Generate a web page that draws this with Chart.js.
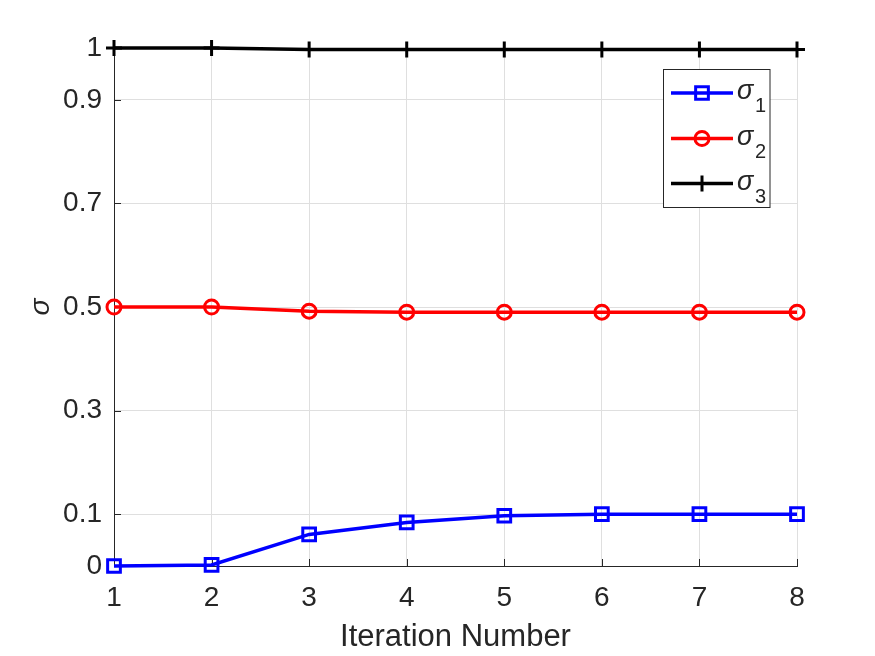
<!DOCTYPE html>
<html>
<head>
<meta charset="utf-8">
<script src="https://cdn.jsdelivr.net/npm/chart.js@4/dist/chart.umd.min.js"></script>
<style>
html,body{margin:0;padding:0;background:#fff;}
#wrap{width:875px;height:656px;position:relative;}
</style>
</head>
<body>
<div id="wrap"><canvas id="c" width="875" height="656"></canvas></div>
<script>
const iterations = [1, 2, 3, 4, 5, 6, 7, 8];
const sigma1 = [0.000, 0.002, 0.061, 0.084, 0.097, 0.100, 0.100, 0.100];
const sigma2 = [0.500, 0.500, 0.492, 0.490, 0.490, 0.490, 0.490, 0.490];
const sigma3 = [1.000, 1.000, 0.997, 0.997, 0.997, 0.997, 0.997, 0.997];
const yTickValues = [0, 0.1, 0.3, 0.5, 0.7, 0.9, 1];
const xTickValues = [1, 2, 3, 4, 5, 6, 7, 8];
const seriesNames = ['1', '2', '3'];
const xTitle = 'Iteration Number';
const yTitle = 'σ';

const FONT = "'Liberation Sans', Arial, Helvetica, sans-serif";
const AX = '#262626';
const GRID = '#dfdfdf';

function pts(vals){ return iterations.map((x,i)=>({x:x, y:vals[i]})); }

const seriesStyles = [
  {color:'#0000ff', pointStyle:'rect', radius:9},
  {color:'#ff0000', pointStyle:'circle', radius:7},
  {color:'#000000', pointStyle:'cross', radius:8}
];
const seriesData = [sigma1, sigma2, sigma3];

const datasets = seriesData.map((vals, i) => ({
  label: 'σ' + seriesNames[i],
  data: pts(vals),
  borderColor: seriesStyles[i].color,
  backgroundColor: 'rgba(0,0,0,0)',
  borderWidth: 3.5,
  pointStyle: seriesStyles[i].pointStyle,
  pointRadius: seriesStyles[i].radius,
  pointHoverRadius: seriesStyles[i].radius,
  pointBorderWidth: 3,
  pointBorderColor: seriesStyles[i].color,
  pointBackgroundColor: 'rgba(0,0,0,0)',
  tension: 0,
  clip: false
}));

const innerTicks = {
  id: 'innerTicks',
  beforeDatasetsDraw(chart){
    const {ctx, chartArea:a, scales:{x, y}} = chart;
    ctx.save();
    ctx.strokeStyle = AX;
    ctx.lineWidth = 1;
    ctx.beginPath();
    xTickValues.forEach(v => {
      const px = Math.round(x.getPixelForValue(v)) + 0.5;
      ctx.moveTo(px, a.bottom); ctx.lineTo(px, a.bottom - 7);
    });
    yTickValues.forEach(v => {
      const py = Math.round(y.getPixelForValue(v)) + 0.5;
      ctx.moveTo(a.left, py); ctx.lineTo(a.left + 7, py);
    });
    ctx.stroke();
    ctx.restore();
  }
};

const legendBox = {
  id: 'legendBox',
  afterDraw(chart){
    const ctx = chart.ctx;
    const bx = 663.5, by = 69.5, bw = 106.5, bh = 138;
    ctx.save();
    ctx.fillStyle = '#fff';
    ctx.fillRect(bx, by, bw, bh);
    ctx.strokeStyle = AX;
    ctx.lineWidth = 1;
    ctx.strokeRect(bx, by, bw, bh);
    const rows = [93, 138.5, 183.5];
    rows.forEach((ry, i) => {
      const st = seriesStyles[i];
      ctx.strokeStyle = st.color;
      ctx.lineWidth = 3.5;
      ctx.beginPath();
      ctx.moveTo(671, ry); ctx.lineTo(733, ry);
      ctx.stroke();
      ctx.fillStyle = 'rgba(0,0,0,0)';
      ctx.lineWidth = 3;
      Chart.helpers.drawPoint(ctx, {pointStyle: st.pointStyle, radius: st.radius, borderWidth: 3}, 702, ry);
      ctx.fillStyle = AX;
      ctx.textBaseline = 'alphabetic';
      ctx.textAlign = 'left';
      ctx.font = 'italic 27px ' + FONT;
      ctx.fillText('σ', 737, ry + 6);
      ctx.font = '20px ' + FONT;
      ctx.fillText(seriesNames[i], 755, ry + 19);
    });
    ctx.restore();
  }
};

new Chart(document.getElementById('c'), {
  type: 'line',
  data: { datasets },
  options: {
    responsive: false,
    devicePixelRatio: 1,
    animation: false,
    events: [],
    layout: { padding: { top: 48, right: 78, left: 0, bottom: 0 } },
    plugins: { legend: { display: false }, tooltip: { enabled: false } },
    scales: {
      x: {
        type: 'linear',
        min: 1, max: 8,
        afterFit(s){ s.height = 90; },
        afterBuildTicks(s){ s.ticks = xTickValues.map(v => ({value: v})); },
        ticks: { color: AX, font: { family: FONT, size: 28 }, padding: 15, maxRotation: 0, autoSkip: false },
        grid: { color: GRID, lineWidth: 1, drawTicks: false },
        border: { display: true, color: AX, width: 1 },
        title: { display: true, text: xTitle, color: AX, font: { family: FONT, size: 31 }, padding: { top: 0, bottom: 0 } }
      },
      y: {
        type: 'linear',
        min: 0, max: 1,
        afterFit(s){ s.width = 114; },
        afterBuildTicks(s){ s.ticks = yTickValues.map(v => ({value: v})); },
        ticks: { color: AX, font: { family: FONT, size: 28 }, padding: 12, autoSkip: false,
                 callback: v => String(v) },
        grid: { color: GRID, lineWidth: 1, drawTicks: false },
        border: { display: true, color: AX, width: 1 },
        title: { display: true, text: yTitle, color: AX, font: { family: FONT, size: 28, style: 'italic' }, padding: { top: 24, bottom: 0 } }
      }
    }
  },
  plugins: [innerTicks, legendBox]
});
</script>
</body>
</html>
